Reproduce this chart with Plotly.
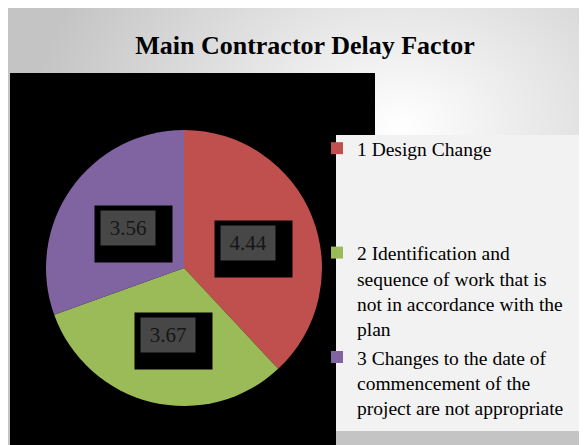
import urllib.parse
import numpy as np
import plotly.graph_objects as go

# data
labels = [
    "1 Design Change<br> <br> <br> ",
    "2 Identification and<br>sequence of work that is<br>not in accordance with the<br>plan",
    "3 Changes to the date of<br>commencement of the<br>project are not appropriate",
]
values = [4.44, 3.67, 3.56]
colors = ["#C0504D", "#9BBB59", "#8064A2"]
title = "Main Contractor Delay Factor"

# the page body adds an 8px white margin top/left, the figure fills the rest
OFF = 8
W, H = 587 - OFF, 445 - OFF
SERIF = "Liberation Serif, Times New Roman, serif"


def fx(x):
    return (x - OFF) / W


def fy(y):
    return 1 - (y - OFF) / H


# pie geometry (window pixels)
cx, cy, r = 184, 268, 138

fig = go.Figure()
fig.add_trace(go.Pie(
    labels=labels,
    values=values,
    marker=dict(colors=colors, line=dict(width=0)),
    sort=False,
    direction="clockwise",
    rotation=0,
    textinfo="none",
    hoverinfo="label+value",
    domain=dict(x=[fx(cx - r), fx(cx + r)], y=[fy(cy + r), fy(cy - r)]),
))

# background gradient panel
svg = ('<svg xmlns="http://www.w3.org/2000/svg" width="579" height="437">'
       '<defs><radialGradient id="g" cx="0.68" cy="0.27" r="0.64">'
       '<stop offset="0" stop-color="#ffffff"/><stop offset="1" stop-color="#c4c4c4"/>'
       '</radialGradient></defs><rect width="579" height="437" fill="url(#g)"/></svg>')
bg = "data:image/svg+xml;charset=utf-8," + urllib.parse.quote(svg)

# value labels at slice mid-angles, half radius
share = np.array(values) / np.sum(values)
mid = (np.cumsum(share) - share / 2) * 2 * np.pi
annotations = []
for v, a in zip(values, mid):
    px = cx + 0.5 * r * np.sin(a)
    py = cy - 0.5 * r * np.cos(a)
    annotations.append(dict(
        x=fx(px), y=fy(py), xref="paper", yref="paper", xanchor="center", yanchor="middle",
        text="", showarrow=False, width=77, height=56, bgcolor="black", borderpad=0,
        xshift=5.5, yshift=-6,
    ))
    annotations.append(dict(
        x=fx(px), y=fy(py), xref="paper", yref="paper", xanchor="center", yanchor="middle",
        text="{:.2f}".format(v), showarrow=False, width=54, height=34, bgcolor="#474747", borderpad=0,
        font=dict(family=SERIF, size=21, color="#161616"),
    ))

fig.update_layout(
    width=W,
    height=H,
    margin=dict(l=0, r=0, t=0, b=0),
    paper_bgcolor="white",
    title=dict(text="<b>" + title + "</b>", x=fx(305), xanchor="center", y=fy(45), yanchor="middle",
               font=dict(family=SERIF, size=26, color="black")),
    images=[dict(source=bg, xref="paper", yref="paper", x=0, y=1, sizex=1, sizey=1,
                 xanchor="left", yanchor="top", sizing="stretch", layer="below")],
    shapes=[
        # black plot area, the legend panel sits over its lower right part
        dict(type="rect", xref="paper", yref="paper", x0=fx(10), x1=fx(375), y0=fy(135), y1=fy(73),
             fillcolor="black", line=dict(width=0), layer="below"),
        dict(type="rect", xref="paper", yref="paper", x0=fx(10), x1=fx(336), y0=0, y1=fy(135),
             fillcolor="black", line=dict(width=0), layer="below"),
        dict(type="rect", xref="paper", yref="paper", x0=fx(336), x1=1, y0=fy(431), y1=fy(135),
             fillcolor="#f2f2f2", line=dict(width=0), layer="below"),
    ],
    annotations=annotations,
    showlegend=True,
    legend=dict(
        x=fx(317), xanchor="left", y=fy(129), yanchor="top",
        bgcolor="rgba(0,0,0,0)", valign="top", traceorder="normal",
        font=dict(family=SERIF, size=19.5, color="black"),
    ),
)

fig.write_html("out.html")
